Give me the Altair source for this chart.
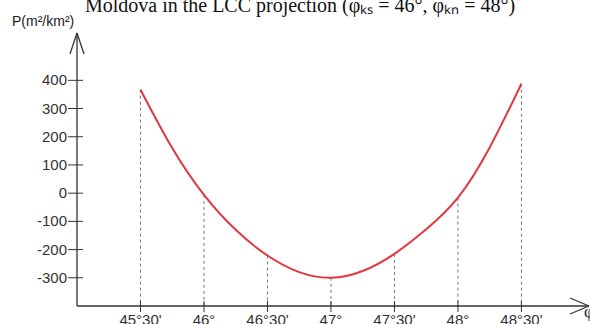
import altair as alt
import pandas as pd

# Curve: area distortion P (m²/km²) vs latitude (degrees)
lat = [45.5, 45.75, 46.0, 46.25, 46.5, 46.75, 47.0, 47.25, 47.5, 47.75, 48.0, 48.25, 48.5]
P = [367, 160, -6, -130, -221, -280, -300, -276, -215, -128, -16, 162, 388]

x_ticks = [45.5, 46.0, 46.5, 47.0, 47.5, 48.0, 48.5]
x_labels = ["45°30'", "46°", "46°30'", "47°", "47°30'", "48°", "48°30'"]
y_ticks = [400, 300, 200, 100, 0, -100, -200, -300]
y_labels = ["400", "300", "200", "100", "0", "-100", "-200", "-300"]

title_text = "Moldova in the LCC projection (φₖₛ = 46°, φₖₙ = 48°)"
y_title = "P(m²/km²)"
x_title = "φ"

W, H = 513, 268
xs = alt.Scale(domain=[45.0, 49.04], nice=False, zero=False)
ys = alt.Scale(domain=[-400, 550], nice=False, zero=False)

curve_df = pd.DataFrame({"lat": lat, "P": P})
lookup = dict(zip(lat, P))
drop_df = pd.DataFrame({"lat": x_ticks, "P": [lookup[t] for t in x_ticks], "label": x_labels})
ytick_df = pd.DataFrame({"P": y_ticks, "label": y_labels})
one = pd.DataFrame({"a": [0]})

X = alt.X("lat:Q", scale=xs, axis=None)
Y = alt.Y("P:Q", scale=ys, axis=None)
AX = "#333333"
FONT = "Liberation Sans"

curve = alt.Chart(curve_df).mark_line(
    color="#e0383e", strokeWidth=2, interpolate="natural"
).encode(x=X, y=Y)

drops = alt.Chart(drop_df).mark_rule(
    color="#777777", strokeDash=[3, 3], strokeWidth=1
).encode(x=X, y=Y, y2=alt.value(H))

xticks = alt.Chart(drop_df).mark_rule(color=AX, strokeWidth=1).encode(
    x=X, y=alt.value(H - 5), y2=alt.value(H + 6)
)
xlabels = alt.Chart(drop_df).mark_text(
    baseline="top", fontSize=15, font=FONT, color=AX
).encode(x=X, y=alt.value(H + 7), text="label:N")

yticks = alt.Chart(ytick_df).mark_rule(color=AX, strokeWidth=1).encode(
    y=Y, x=alt.value(-9), x2=alt.value(6)
)
ylabels = alt.Chart(ytick_df).mark_text(
    align="right", baseline="middle", fontSize=15, font=FONT, color=AX
).encode(y=Y, x=alt.value(-10), text="label:N")

yaxis = alt.Chart(one).mark_rule(color=AX, strokeWidth=1.3).encode(
    x=alt.value(0), y=alt.value(-5), y2=alt.value(H)
)
xaxis = alt.Chart(one).mark_rule(color=AX, strokeWidth=1.3).encode(
    x=alt.value(0), x2=alt.value(511), y=alt.value(H)
)
yarrow1 = alt.Chart(one).mark_rule(color=AX, strokeWidth=1.3).encode(
    x=alt.value(0), x2=alt.value(-7), y=alt.value(-5), y2=alt.value(16)
)
yarrow2 = alt.Chart(one).mark_rule(color=AX, strokeWidth=1.3).encode(
    x=alt.value(0), x2=alt.value(7), y=alt.value(-5), y2=alt.value(16)
)
xarrow1 = alt.Chart(one).mark_rule(color=AX, strokeWidth=1.3).encode(
    x=alt.value(512), x2=alt.value(493), y=alt.value(H), y2=alt.value(H - 8)
)
xarrow2 = alt.Chart(one).mark_rule(color=AX, strokeWidth=1.3).encode(
    x=alt.value(512), x2=alt.value(493), y=alt.value(H), y2=alt.value(H + 8)
)

ytitle = alt.Chart(one).mark_text(
    align="left", baseline="alphabetic", fontSize=14, font=FONT, color="#222222"
).encode(x=alt.value(-65), y=alt.value(-12), text=alt.value(y_title))

xtitle = alt.Chart(one).mark_text(
    align="left", baseline="middle", fontSize=17, font="Liberation Serif", color="#222222"
).encode(x=alt.value(507), y=alt.value(H + 6), text=alt.value(x_title))

title = alt.Chart(one).mark_text(
    align="center", baseline="alphabetic", fontSize=20, font="Liberation Serif", color="#111111"
).encode(x=alt.value(223), y=alt.value(-26), text=alt.value(title_text))

chart = alt.layer(
    drops, curve, xticks, xlabels, yticks, ylabels, yaxis, xaxis,
    yarrow1, yarrow2, xarrow1, xarrow2, ytitle, xtitle, title
).properties(
    width=W, height=H,
    padding={"left": 77, "top": 38, "right": 0, "bottom": 18},
    autosize=alt.AutoSizeParams(type="none"),
).configure_view(stroke=None)

chart.save("out.html", embed_options={"renderer": "svg", "actions": False})
